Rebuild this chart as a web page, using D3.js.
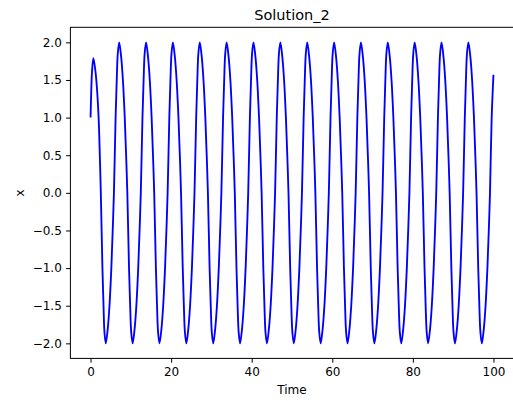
<!DOCTYPE html>
<html><head><meta charset="utf-8">
<script src="https://cdn.jsdelivr.net/npm/d3@7"></script>
<style>
body{margin:0;background:#fff}
svg{display:block}
text{font-family:"DejaVu Sans",sans-serif}
</style>
</head><body>
<svg id="c" width="513" height="401"></svg>
<script>
const title = "Solution_2";
const xLabel = "Time";
const yLabel = "x";
const xTicks = [0, 20, 40, 60, 80, 100];
const yTicks = [-2, -1.5, -1, -0.5, 0, 0.5, 1, 1.5, 2];

// Solution x(Time) (start, then one row per cycle: trough → peak → before next trough)
const time = [
  0, 0.15, 0.35, 0.7, 1.2, 1.55, 2.0, 2.3, 2.55, 2.95, 3.22, 3.45,
  3.78, 4.28, 4.70, 5.16, 5.50, 5.80, 6.22, 6.50, 6.76, 7.11, 7.61, 8.03, 8.49, 8.83, 9.13, 9.55, 9.83, 10.09,
  10.45, 10.95, 11.37, 11.83, 12.17, 12.47, 12.89, 13.17, 13.43, 13.78, 14.28, 14.70, 15.16, 15.50, 15.80, 16.22, 16.50, 16.76,
  17.11, 17.61, 18.03, 18.49, 18.83, 19.13, 19.55, 19.83, 20.09, 20.44, 20.94, 21.36, 21.82, 22.16, 22.46, 22.88, 23.16, 23.42,
  23.78, 24.28, 24.70, 25.16, 25.50, 25.80, 26.22, 26.50, 26.76, 27.11, 27.61, 28.03, 28.49, 28.83, 29.13, 29.55, 29.83, 30.09,
  30.45, 30.95, 31.37, 31.83, 32.17, 32.47, 32.89, 33.17, 33.43, 33.78, 34.28, 34.70, 35.16, 35.50, 35.80, 36.22, 36.50, 36.76,
  37.11, 37.61, 38.03, 38.49, 38.83, 39.13, 39.55, 39.83, 40.09, 40.44, 40.94, 41.36, 41.82, 42.16, 42.46, 42.88, 43.16, 43.42,
  43.78, 44.28, 44.70, 45.16, 45.50, 45.80, 46.22, 46.50, 46.76, 47.11, 47.61, 48.03, 48.49, 48.83, 49.13, 49.55, 49.83, 50.09,
  50.45, 50.95, 51.37, 51.83, 52.17, 52.47, 52.89, 53.17, 53.43, 53.78, 54.28, 54.70, 55.16, 55.50, 55.80, 56.22, 56.50, 56.76,
  57.12, 57.62, 58.04, 58.50, 58.84, 59.14, 59.56, 59.84, 60.10, 60.45, 60.95, 61.37, 61.83, 62.17, 62.47, 62.89, 63.17, 63.43,
  63.78, 64.28, 64.70, 65.16, 65.50, 65.80, 66.22, 66.50, 66.76, 67.11, 67.61, 68.03, 68.49, 68.83, 69.13, 69.55, 69.83, 70.09,
  70.45, 70.95, 71.37, 71.83, 72.17, 72.47, 72.89, 73.17, 73.43, 73.78, 74.28, 74.70, 75.16, 75.50, 75.80, 76.22, 76.50, 76.76,
  77.12, 77.62, 78.04, 78.50, 78.84, 79.14, 79.56, 79.84, 80.10, 80.45, 80.95, 81.37, 81.83, 82.17, 82.47, 82.89, 83.17, 83.43,
  83.78, 84.28, 84.70, 85.16, 85.50, 85.80, 86.22, 86.50, 86.76, 87.11, 87.61, 88.03, 88.49, 88.83, 89.13, 89.55, 89.83, 90.09,
  90.45, 90.95, 91.37, 91.83, 92.17, 92.47, 92.89, 93.17, 93.43, 93.78, 94.28, 94.70, 95.16, 95.50, 95.80, 96.22, 96.50, 96.76,
  97.12, 97.62, 98.04, 98.50, 98.84, 99.14, 99.56, 100.0
];
const xValues = [
  1.0, 1.3, 1.6, 1.79, 1.62, 1.42, 1.0, 0.5, 0, -1, -1.5, -1.85,
  -2, -1.8, -1.5, -1, -0.5, 0, 1, 1.5, 1.85, 2, 1.8, 1.5, 1, 0.5, 0, -1, -1.5, -1.85,
  -2, -1.8, -1.5, -1, -0.5, 0, 1, 1.5, 1.85, 2, 1.8, 1.5, 1, 0.5, 0, -1, -1.5, -1.85,
  -2, -1.8, -1.5, -1, -0.5, 0, 1, 1.5, 1.85, 2, 1.8, 1.5, 1, 0.5, 0, -1, -1.5, -1.85,
  -2, -1.8, -1.5, -1, -0.5, 0, 1, 1.5, 1.85, 2, 1.8, 1.5, 1, 0.5, 0, -1, -1.5, -1.85,
  -2, -1.8, -1.5, -1, -0.5, 0, 1, 1.5, 1.85, 2, 1.8, 1.5, 1, 0.5, 0, -1, -1.5, -1.85,
  -2, -1.8, -1.5, -1, -0.5, 0, 1, 1.5, 1.85, 2, 1.8, 1.5, 1, 0.5, 0, -1, -1.5, -1.85,
  -2, -1.8, -1.5, -1, -0.5, 0, 1, 1.5, 1.85, 2, 1.8, 1.5, 1, 0.5, 0, -1, -1.5, -1.85,
  -2, -1.8, -1.5, -1, -0.5, 0, 1, 1.5, 1.85, 2, 1.8, 1.5, 1, 0.5, 0, -1, -1.5, -1.85,
  -2, -1.8, -1.5, -1, -0.5, 0, 1, 1.5, 1.85, 2, 1.8, 1.5, 1, 0.5, 0, -1, -1.5, -1.85,
  -2, -1.8, -1.5, -1, -0.5, 0, 1, 1.5, 1.85, 2, 1.8, 1.5, 1, 0.5, 0, -1, -1.5, -1.85,
  -2, -1.8, -1.5, -1, -0.5, 0, 1, 1.5, 1.85, 2, 1.8, 1.5, 1, 0.5, 0, -1, -1.5, -1.85,
  -2, -1.8, -1.5, -1, -0.5, 0, 1, 1.5, 1.85, 2, 1.8, 1.5, 1, 0.5, 0, -1, -1.5, -1.85,
  -2, -1.8, -1.5, -1, -0.5, 0, 1, 1.5, 1.85, 2, 1.8, 1.5, 1, 0.5, 0, -1, -1.5, -1.85,
  -2, -1.8, -1.5, -1, -0.5, 0, 1, 1.5, 1.85, 2, 1.8, 1.5, 1, 0.5, 0, -1, -1.5, -1.85,
  -2, -1.8, -1.5, -1, -0.5, 0, 1, 1.57
];

const svg = d3.select("#c");
const mLeft = 70.4, mRight = 513.6, mTop = 27.3, mBottom = 358.4;

const xs = d3.scaleLinear().domain([-5, 105]).range([mLeft, mRight]);
const ys = d3.scaleLinear().domain([-2.2, 2.2]).range([mBottom, mTop]);

const data = time.map((t, i) => ({t, v: xValues[i]}));

const line = d3.line()
  .x(d => xs(d.t))
  .y(d => ys(d.v))
  .curve(d3.curveCatmullRom.alpha(0.5));

svg.append("path")
  .datum(data)
  .attr("d", line)
  .attr("fill", "none")
  .attr("stroke", "#0000ff")
  .attr("stroke-width", 1.85)
  .attr("stroke-linejoin", "round");

const fmt = d3.format(".1f");

const gx = svg.append("g")
  .attr("transform", `translate(0,${mBottom})`)
  .call(d3.axisBottom(xs).tickValues(xTicks).tickFormat(d3.format("d")).tickSize(4.3).tickPadding(4.3).tickSizeOuter(0));
const gy = svg.append("g")
  .attr("transform", `translate(${mLeft},0)`)
  .call(d3.axisLeft(ys).tickValues(yTicks).tickFormat(fmt).tickSize(4.3).tickPadding(4.3).tickSizeOuter(0));

[gx, gy].forEach(g => {
  g.select(".domain").remove();
  g.selectAll(".tick line").attr("stroke", "#000").attr("stroke-width", 1);
  g.selectAll(".tick text").attr("font-size", 12).attr("fill", "#000")
    .attr("font-family", "DejaVu Sans, sans-serif");
});

svg.append("rect")
  .attr("x", mLeft).attr("y", mTop)
  .attr("width", mRight - mLeft).attr("height", mBottom - mTop)
  .attr("fill", "none").attr("stroke", "#000").attr("stroke-width", 1);

svg.append("text")
  .attr("x", (mLeft + mRight) / 2).attr("y", 20)
  .attr("text-anchor", "middle").attr("font-size", 14.5).attr("fill", "#000")
  .text(title);

svg.append("text")
  .attr("x", (mLeft + mRight) / 2).attr("y", 394)
  .attr("text-anchor", "middle").attr("font-size", 12).attr("fill", "#000")
  .text(xLabel);

svg.append("text")
  .attr("transform", `translate(24,${(mTop + mBottom) / 2}) rotate(-90)`)
  .attr("text-anchor", "middle").attr("font-size", 12).attr("fill", "#000")
  .text(yLabel);
</script>
</body></html>
